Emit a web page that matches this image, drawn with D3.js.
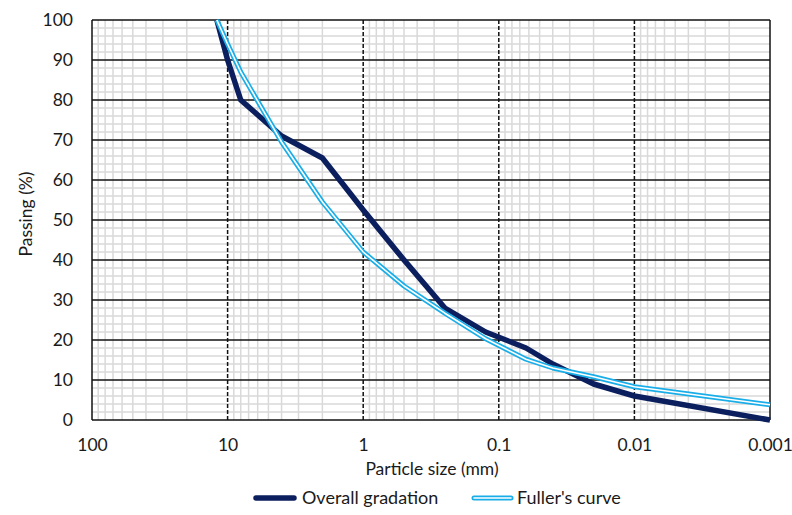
<!DOCTYPE html>
<html>
<head>
<meta charset="utf-8">
<script src="https://cdn.jsdelivr.net/npm/d3@7"></script>
<style>
  html, body { margin: 0; padding: 0; background: #fff; }
  svg { display: block; }
  text { font-family: Lato, "Noto Sans", sans-serif; fill: #1a1a1a; }
</style>
</head>
<body>
<div id="chart"></div>
<script>
// ---- data ----
const sizes   = [12, 10, 8, 4, 2, 1, 0.5, 0.25, 0.125, 0.063, 0.04, 0.02, 0.01, 0.001];
const overall = [100, 90, 80, 71, 65.5, 52.5, 40, 28, 22, 18, 14, 9, 6, 0];
const fuller  = [100, 94, 87, 69.5, 54.5, 42, 33.5, 26.7, 20.3, 15.2, 13, 10.8, 8.3, 3.8];
const xTicks  = [100, 10, 1, 0.1, 0.01, 0.001];
const xTickLabels = ["100", "10", "1", "0.1", "0.01", "0.001"];
const yTicks  = [0, 10, 20, 30, 40, 50, 60, 70, 80, 90, 100];
const seriesNames = ["Overall gradation", "Fuller's curve"];

const W = 792, H = 515;
const m = { left: 92, right: 770, top: 20, bottom: 420 };
const navy = "#0b1f5e", cyan = "#1aaee8";
const FONT = "Lato, 'Noto Sans', sans-serif";

const svg = d3.select("#chart").append("svg").attr("width", W).attr("height", H);

const x = d3.scaleLog().domain([100, 0.001]).range([m.left, m.right]);
const y = d3.scaleLinear().domain([0, 100]).range([m.bottom, m.top]);

const g = svg.append("g");

// minor vertical grid (2..9 in each decade)
const minorX = [];
for (let e = -3; e < 2; e++) for (let k = 2; k <= 9; k++) minorX.push(k * Math.pow(10, e));
g.append("g").selectAll("line").data(minorX).join("line")
  .attr("x1", d => x(d)).attr("x2", d => x(d))
  .attr("y1", m.top).attr("y2", m.bottom)
  .attr("stroke", "#d9d9d9").attr("stroke-width", 1.5);

// minor horizontal grid every 2
const minorY = d3.range(2, 100, 2).filter(v => v % 10 !== 0);
g.append("g").selectAll("line").data(minorY).join("line")
  .attr("x1", m.left).attr("x2", m.right)
  .attr("y1", d => y(d)).attr("y2", d => y(d))
  .attr("stroke", "#d9d9d9").attr("stroke-width", 1.5);

// major horizontal
g.append("g").selectAll("line").data(yTicks).join("line")
  .attr("x1", m.left).attr("x2", m.right)
  .attr("y1", d => y(d)).attr("y2", d => y(d))
  .attr("stroke", "#111").attr("stroke-width", 1.5);

// major vertical dashed (inner decades)
g.append("g").selectAll("line").data(xTicks.slice(1, -1)).join("line")
  .attr("x1", d => x(d)).attr("x2", d => x(d))
  .attr("y1", m.top).attr("y2", m.bottom)
  .attr("stroke", "#111").attr("stroke-width", 1.5)
  .attr("stroke-dasharray", "4,2");

// borders left/right
g.append("g").selectAll("line").data([xTicks[0], xTicks[xTicks.length - 1]]).join("line")
  .attr("x1", d => x(d)).attr("x2", d => x(d))
  .attr("y1", m.top).attr("y2", m.bottom)
  .attr("stroke", "#111").attr("stroke-width", 1.5);

// axes labels via d3 axes
const yAxis = d3.axisLeft(y).tickValues(yTicks).tickSize(0).tickPadding(0);
svg.append("g").attr("transform", `translate(${m.left - 19},0)`).call(yAxis)
  .call(s => s.select(".domain").remove())
  .selectAll("text").style("font-size", "17.5px").style("font-family", FONT).attr("fill", "#1a1a1a");

const xAxis = d3.axisBottom(x).tickValues(xTicks).tickFormat((d, i) => xTickLabels[i]).tickSize(0).tickPadding(0);
svg.append("g").attr("transform", `translate(0,${m.bottom + 19})`).call(xAxis)
  .call(s => s.select(".domain").remove())
  .selectAll("text").style("font-size", "17.5px").style("font-family", FONT).attr("fill", "#1a1a1a");

// axis titles
svg.append("text").attr("x", (m.left + m.right) / 2 + 1).attr("y", 475)
  .attr("text-anchor", "middle").style("font-size", "17.5px").text("Particle size (mm)");
svg.append("text").attr("transform", `translate(32,${(m.top + m.bottom) / 2 - 6}) rotate(-90)`)
  .attr("text-anchor", "middle").style("font-size", "17.5px").text("Passing (%)");

// lines
const line = d3.line().x(d => x(d[0])).y(d => y(d[1]));
const overallPts = sizes.map((s, i) => [s, overall[i]]);
const fullerPts = sizes.map((s, i) => [s, fuller[i]]);

svg.append("path").datum(overallPts).attr("d", line)
  .attr("fill", "none").attr("stroke", navy).attr("stroke-width", 5.5)
  .attr("stroke-linejoin", "round").attr("stroke-linecap", "butt");

svg.append("path").datum(fullerPts).attr("d", line)
  .attr("fill", "none").attr("stroke", cyan).attr("stroke-width", 5)
  .attr("stroke-linejoin", "round");
svg.append("path").datum(fullerPts).attr("d", line)
  .attr("fill", "none").attr("stroke", "#fff").attr("stroke-width", 1.6)
  .attr("stroke-linejoin", "round");

// legend
const lg = svg.append("g");
const ly = 498;
lg.append("line").attr("x1", 256).attr("x2", 294).attr("y1", ly).attr("y2", ly)
  .attr("stroke", navy).attr("stroke-width", 5.5).attr("stroke-linecap", "round");
lg.append("text").attr("x", 302).attr("y", ly + 6).style("font-size", "18px").text(seriesNames[0]);
lg.append("line").attr("x1", 474).attr("x2", 511).attr("y1", ly).attr("y2", ly)
  .attr("stroke", cyan).attr("stroke-width", 5).attr("stroke-linecap", "round");
lg.append("line").attr("x1", 474).attr("x2", 511).attr("y1", ly).attr("y2", ly)
  .attr("stroke", "#fff").attr("stroke-width", 1.6).attr("stroke-linecap", "round");
lg.append("text").attr("x", 517).attr("y", ly + 6).style("font-size", "18px").text(seriesNames[1]);
</script>
</body>
</html>
